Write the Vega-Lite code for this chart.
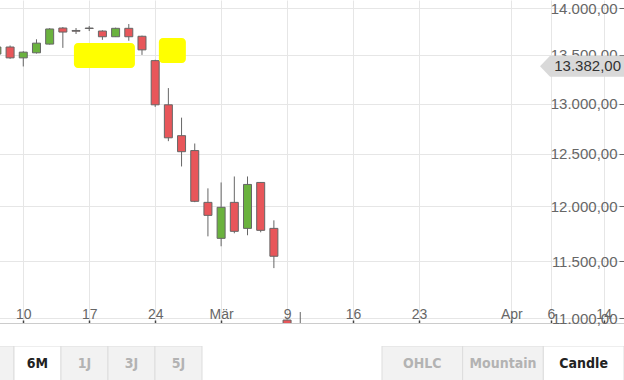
{
  "$schema": "https://vega.github.io/schema/vega-lite/v6.json",
  "padding": 0,
  "autosize": {"type": "pad"},
  "spacing": 19,
  "background": "#ffffff",
  "config": {"view": {"stroke": null}, "font": "Liberation Sans"},
  "datasets": {
    "ohlc": [
      {"date": "2020-02-06", "open": 13510, "high": 13595, "low": 13500, "close": 13584},
      {"date": "2020-02-07", "open": 13584, "high": 13600, "low": 13460, "close": 13470},
      {"date": "2020-02-10", "open": 13470, "high": 13540, "low": 13380, "close": 13530},
      {"date": "2020-02-11", "open": 13523, "high": 13666, "low": 13515, "close": 13625},
      {"date": "2020-02-12", "open": 13615, "high": 13785, "low": 13610, "close": 13776},
      {"date": "2020-02-13", "open": 13786, "high": 13797, "low": 13575, "close": 13743},
      {"date": "2020-02-14", "open": 13760, "high": 13786, "low": 13722, "close": 13752},
      {"date": "2020-02-17", "open": 13786, "high": 13808, "low": 13754, "close": 13781},
      {"date": "2020-02-18", "open": 13754, "high": 13762, "low": 13660, "close": 13693},
      {"date": "2020-02-19", "open": 13693, "high": 13790, "low": 13690, "close": 13783},
      {"date": "2020-02-20", "open": 13783, "high": 13829, "low": 13650, "close": 13693},
      {"date": "2020-02-21", "open": 13698, "high": 13705, "low": 13501, "close": 13554},
      {"date": "2020-02-24", "open": 13441, "high": 13450, "low": 12966, "close": 12987},
      {"date": "2020-02-25", "open": 12987, "high": 13157, "low": 12625, "close": 12658},
      {"date": "2020-02-26", "open": 12679, "high": 12858, "low": 12379, "close": 12522},
      {"date": "2020-02-27", "open": 12533, "high": 12602, "low": 12040, "close": 12048},
      {"date": "2020-02-28", "open": 12038, "high": 12170, "low": 11724, "close": 11917},
      {"date": "2020-03-02", "open": 11706, "high": 12226, "low": 11634, "close": 11992},
      {"date": "2020-03-03", "open": 12038, "high": 12283, "low": 11752, "close": 11770},
      {"date": "2020-03-04", "open": 11797, "high": 12283, "low": 11734, "close": 12207},
      {"date": "2020-03-05", "open": 12226, "high": 12230, "low": 11761, "close": 11779},
      {"date": "2020-03-06", "open": 11797, "high": 11871, "low": 11438, "close": 11544},
      {"date": "2020-03-09", "open": 10985, "high": 10990, "low": 10500, "close": 10620},
      {"date": "2020-03-10", "open": 10700, "high": 11054, "low": 10400, "close": 10900}
    ],
    "buttons": [
      {"label": "3M", "group": "L", "sel": false},
      {"label": "6M", "group": "L", "sel": true},
      {"label": "1J", "group": "L", "sel": false},
      {"label": "3J", "group": "L", "sel": false},
      {"label": "5J", "group": "L", "sel": false},
      {"label": "OHLC", "group": "R", "sel": false},
      {"label": "Mountain", "group": "R", "sel": false},
      {"label": "Candle", "group": "R", "sel": true}
    ]
  },
  "vconcat": [
    {
      "width": 624,
      "height": 323,
      "layer": [
        {
          "data": {"name": "ohlc"},
          "mark": {"type": "rule", "color": "#666666", "strokeWidth": 1, "clip": true},
          "encoding": {
            "x": {
              "field": "date",
              "type": "ordinal",
              "scale": {
                "type": "point",
                "padding": 0,
                "range": [-3.1, 630],
                "domain": ["2020-02-06","2020-02-07","2020-02-10","2020-02-11","2020-02-12","2020-02-13","2020-02-14","2020-02-17","2020-02-18","2020-02-19","2020-02-20","2020-02-21","2020-02-24","2020-02-25","2020-02-26","2020-02-27","2020-02-28","2020-03-02","2020-03-03","2020-03-04","2020-03-05","2020-03-06","2020-03-09","2020-03-10","2020-03-11","2020-03-12","2020-03-13","2020-03-16","2020-03-17","2020-03-18","2020-03-19","2020-03-20","2020-03-23","2020-03-24","2020-03-25","2020-03-26","2020-03-27","2020-03-30","2020-03-31","2020-04-01","2020-04-02","2020-04-03","2020-04-06","2020-04-07","2020-04-08","2020-04-09","2020-04-14","2020-04-15","2020-04-16"]
              },
              "axis": {
                "orient": "bottom",
                "title": null,
                "values": ["2020-02-10","2020-02-17","2020-02-24","2020-03-02","2020-03-09","2020-03-16","2020-03-23","2020-04-01","2020-04-06","2020-04-14"],
                "labelExpr": "datum.value == '2020-03-02' ? 'Mär' : (datum.value == '2020-04-01' ? 'Apr' : '' + toNumber(substring(datum.value, 8, 10)))",
                "labelAngle": 0,
                "labelFontSize": 14,
                "labelColor": "#666666",
                "labelBaseline": "alphabetic",
                "labelPadding": -2,
                "tickSize": -3,
                "tickColor": "#444444",
                "tickWidth": 1.5,
                "domainColor": "#cccccc",
                "grid": true,
                "gridColor": "#e6e6e6",
                "minExtent": 0,
                "maxExtent": 0
              }
            },
            "y": {
              "field": "low",
              "type": "quantitative",
              "scale": {"type": "log", "domain": [10960, 14090], "nice": false, "zero": false},
              "axis": {
                "orient": "right",
                "title": null,
                "values": [11000, 11500, 12000, 12500, 13000, 13500, 14000],
                "labelExpr": "replace(replace(replace(format(datum.value, ',.2f'), ',', '#'), '.', ','), '#', '.')",
                "labelFontSize": 15,
                "labelColor": "#666666",
                "labelAlign": "right",
                "labelBaseline": "middle",
                "labelPadding": -2,
                "tickSize": -5,
                "tickColor": "#666666",
                "domain": false,
                "grid": true,
                "gridColor": "#e6e6e6",
                "minExtent": 0,
                "maxExtent": 0
              }
            },
            "y2": {"field": "high"}
          }
        },
        {
          "data": {"name": "ohlc"},
          "mark": {"type": "bar", "size": 8, "stroke": "#666666", "strokeWidth": 1, "clip": true},
          "encoding": {
            "x": {"field": "date", "type": "ordinal"},
            "y": {"field": "open", "type": "quantitative"},
            "y2": {"field": "close"},
            "fill": {"condition": {"test": "datum.close >= datum.open", "value": "#6ab23e"}, "value": "#e8565a"}
          }
        },
        {
          "data": {"values": [{"date": "2020-02-18", "top": 13627, "bottom": 13364}]},
          "mark": {"type": "bar", "size": 61, "xOffset": 2, "color": "#ffff00", "cornerRadius": 4},
          "encoding": {
            "x": {"field": "date", "type": "ordinal"},
            "y": {"field": "top", "type": "quantitative"},
            "y2": {"field": "bottom"}
          }
        },
        {
          "data": {"values": [{"date": "2020-02-25", "top": 13680, "bottom": 13416}]},
          "mark": {"type": "bar", "size": 27, "xOffset": 4, "color": "#ffff00", "cornerRadius": 4},
          "encoding": {
            "x": {"field": "date", "type": "ordinal"},
            "y": {"field": "top", "type": "quantitative"},
            "y2": {"field": "bottom"}
          }
        },
        {
          "data": {"values": [{"last": 13382, "label": "13.382,00"}]},
          "mark": {"type": "point", "shape": "M0,-0.125L-0.88,-0.125L-1,0L-0.88,0.125L0,0.125Z", "size": 28224, "filled": true, "color": "#d9d9d9", "opacity": 1, "x": "width"},
          "encoding": {
            "y": {"field": "last", "type": "quantitative"}
          }
        },
        {
          "data": {"values": [{"last": 13382, "label": "13.382,00"}]},
          "mark": {"type": "text", "x": "width", "dx": -3, "align": "right", "baseline": "middle", "fontSize": 15, "color": "#333333"},
          "encoding": {
            "y": {"field": "last", "type": "quantitative"},
            "text": {"field": "label"}
          }
        }
      ]
    },
    {
      "width": 624,
      "height": 36,
      "data": {"name": "buttons"},
      "layer": [
        {
          "transform": [{"filter": "datum.group == 'L'"}],
          "layer": [
            {
              "mark": {"type": "rect", "stroke": "#dddddd", "strokeWidth": 1, "clip": true},
              "encoding": {
                "x": {"field": "label", "type": "nominal", "scale": {"type": "band", "domain": ["3M","6M","1J","3J","5J"], "range": [-33, 202], "paddingInner": 0, "paddingOuter": 0}, "axis": null},
                "fill": {"condition": {"test": "datum.sel", "value": "#ffffff"}, "value": "#f2f2f2"}
              }
            },
            {
              "transform": [{"filter": "datum.label != '3M'"}],
              "mark": {"type": "text", "fontSize": 14, "fontWeight": "bold", "font": "Liberation Sans Narrow, DejaVu Sans Condensed, sans-serif", "clip": true},
              "encoding": {
                "x": {"field": "label", "type": "nominal"},
                "text": {"field": "label"},
                "color": {"condition": {"test": "datum.sel", "value": "#222222"}, "value": "#b3b3b3"}
              }
            }
          ]
        },
        {
          "transform": [{"filter": "datum.group == 'R'"}],
          "layer": [
            {
              "mark": {"type": "rect", "stroke": "#dddddd", "strokeWidth": 1, "clip": true},
              "encoding": {
                "x": {"field": "label", "type": "nominal", "scale": {"type": "band", "domain": ["OHLC","Mountain","Candle"], "range": [382, 624], "paddingInner": 0, "paddingOuter": 0}, "axis": null},
                "fill": {"condition": {"test": "datum.sel", "value": "#ffffff"}, "value": "#f2f2f2"}
              }
            },
            {
              "mark": {"type": "text", "fontSize": 14, "fontWeight": "bold", "font": "Liberation Sans Narrow, DejaVu Sans Condensed, sans-serif", "clip": true},
              "encoding": {
                "x": {"field": "label", "type": "nominal"},
                "text": {"field": "label"},
                "color": {"condition": {"test": "datum.sel", "value": "#222222"}, "value": "#b3b3b3"}
              }
            }
          ]
        }
      ],
      "resolve": {"scale": {"x": "independent"}}
    }
  ]
}
